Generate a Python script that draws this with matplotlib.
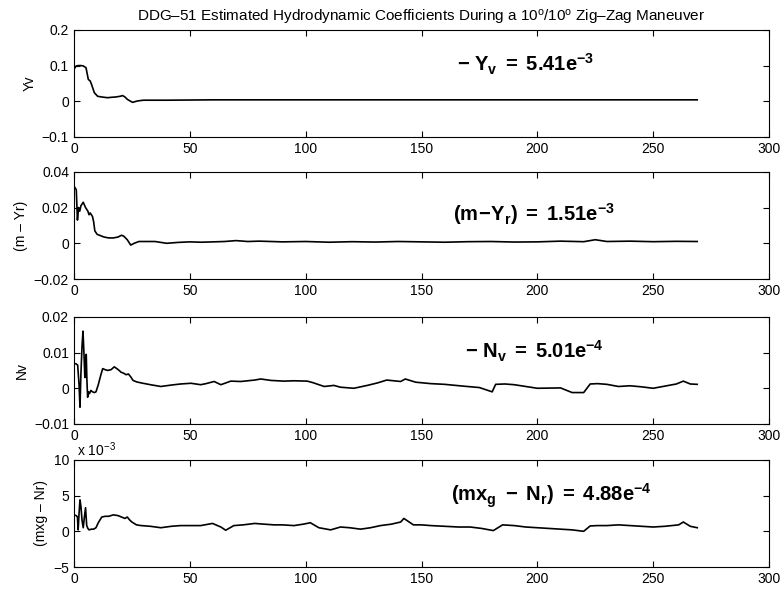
import matplotlib
matplotlib.use("Agg")
import matplotlib.pyplot as plt
from matplotlib.ticker import FuncFormatter

plt.rcParams['font.family'] = ['Liberation Sans', 'DejaVu Sans']
plt.rcParams['mathtext.fontset'] = 'custom'
plt.rcParams['mathtext.rm'] = 'Liberation Sans'
plt.rcParams['mathtext.it'] = 'Liberation Sans'
plt.rcParams['mathtext.bf'] = 'Liberation Sans:bold'

# Yv
t1 = [0, 1, 2, 3, 4, 5.2, 6.2, 7, 7.6, 8.8,
      10.2, 12, 14.5, 16, 18, 20, 21, 22, 23.1, 25.3,
      27.5, 30, 40, 60, 80, 100, 130, 160, 200, 240,
      269]
y1 = [0.09, 0.099, 0.1, 0.1, 0.099, 0.094, 0.061, 0.057, 0.047, 0.024,
      0.014, 0.012, 0.01, 0.011, 0.012, 0.014, 0.016, 0.012, 0.005, -0.003,
      0.001, 0.003, 0.003, 0.004, 0.004, 0.004, 0.004, 0.004, 0.004, 0.004,
      0.004]

# (m - Yr)
t2 = [0, 0.5, 1, 1.5, 2, 2.5, 3, 4, 5, 6,
      6.5, 7, 8, 8.5, 9, 10, 11, 13, 15, 17,
      19, 20.5, 21.5, 23, 24.5, 26, 28, 30, 35, 40,
      45, 50, 55, 60, 65, 70, 75, 80, 90, 100,
      110, 120, 130, 140, 150, 160, 170, 180, 190, 200,
      210, 220, 225, 230, 240, 250, 260, 269]
y2 = [0.032, 0.031, 0.030, 0.013, 0.020, 0.018, 0.021, 0.023, 0.020, 0.018,
      0.016, 0.017, 0.015, 0.012, 0.007, 0.005, 0.0045, 0.0035, 0.003, 0.003,
      0.0035, 0.0045, 0.004, 0.002, -0.001, 0.0, 0.001, 0.001, 0.001, 0.0,
      0.0005, 0.0008, 0.0006, 0.0008, 0.001, 0.0015, 0.001, 0.0012, 0.0008, 0.001,
      0.0006, 0.0009, 0.0007, 0.001, 0.0008, 0.0006, 0.0009, 0.001, 0.0007, 0.0008,
      0.0012, 0.0009, 0.002, 0.001, 0.0012, 0.0009, 0.0011, 0.001]

# Nv
t3 = [0, 1, 1.6, 2.2, 2.6, 3.0, 3.5, 3.9, 4.3, 4.7,
      5.0, 5.3, 5.6, 5.9, 6.3, 6.7, 7.3, 8, 8.8, 9.5,
      10.5, 11.5, 12.4, 13.5, 14.5, 16, 17.4, 18.5, 19.5, 20.3,
      21.5, 22.5, 23.5, 24.5, 25.5, 27, 29, 33, 37.5, 42,
      46, 50.5, 54.7, 57, 60.5, 63.4, 67.7, 72, 78, 80.6,
      85, 90.6, 95, 100.7, 103, 108, 112.2, 115, 120.8, 126.6,
      131, 135, 141, 143, 147.5, 154, 160, 168, 175, 180.5,
      182, 186, 190, 200, 210, 215, 220, 222.8, 226, 230,
      235, 240, 245, 250, 255, 260, 263, 266, 269]
y3 = [0.007, 0.0068, 0.0065, 0.001, -0.0053, 0.004, 0.012, 0.016, 0.010, 0.003,
      0.008, 0.0095, 0.002, -0.0025, -0.001, -0.0015, -0.0006, -0.001, -0.0012, -0.001,
      0.001, 0.0035, 0.0055, 0.0052, 0.005, 0.0052, 0.006, 0.0055, 0.005, 0.0045,
      0.0042, 0.0038, 0.004, 0.0032, 0.0022, 0.0018, 0.0015, 0.001, 0.0005, 0.0009,
      0.0012, 0.0014, 0.001, 0.0013, 0.0019, 0.001, 0.002, 0.0019, 0.0023, 0.0026,
      0.0022, 0.002, 0.0021, 0.002, 0.0016, 0.0005, 0.0008, 0.0003, 0.0, 0.0008,
      0.0015, 0.0023, 0.0019, 0.0026, 0.0017, 0.0013, 0.0011, 0.0006, 0.0002, -0.001,
      0.0011, 0.0012, 0.001, 0.0, 0.0001, -0.0012, -0.0012, 0.0012, 0.0013, 0.0011,
      0.0005, 0.0007, 0.0004, 0.0, 0.0006, 0.0012, 0.002, 0.0012, 0.0011]

# (mxg - Nr), in units of 1e-3
t4 = [0, 1, 1.5, 1.8, 2.2, 2.6, 3.0, 3.5, 4.0, 4.5,
      5.0, 5.5, 6.0, 6.5, 7.5, 8.5, 9.5, 10.5, 12, 13.5,
      15, 17, 19, 20.5, 22, 23, 24, 25, 27, 29,
      33, 37.5, 42, 46, 50, 54.7, 59.8, 63.4, 65.5, 69,
      73, 78, 82, 86.4, 90, 95, 99, 102, 105.7, 110.8,
      115, 119, 123.7, 128, 132.3, 137, 141, 142.4, 146.5, 150,
      154, 160, 166, 171, 176, 181, 185, 190, 195, 200,
      205, 210, 215, 220, 222.8, 226, 230, 235, 240, 245,
      250, 255, 258, 261, 263, 266, 269]
y4 = [2.3, 2.2, 2.0, 0.2, 2.5, 4.4, 3.5, 1.5, 0.5, 2.0,
      3.3, 0.8, 0.4, 0.2, 0.3, 0.3, 0.5, 1.2, 2.0, 2.1,
      2.1, 2.3, 2.2, 2.0, 1.8, 2.0, 1.6, 1.3, 0.9, 0.8,
      0.7, 0.5, 0.7, 0.8, 0.8, 0.8, 1.1, 0.6, 0.15, 0.8,
      0.9, 1.1, 1.0, 0.9, 0.9, 0.8, 1.0, 1.2, 0.5, 0.2,
      0.6, 0.5, 0.3, 0.5, 0.8, 1.0, 1.3, 1.8, 0.9, 0.9,
      0.8, 0.7, 0.6, 0.6, 0.4, 0.1, 0.9, 0.8, 0.6, 0.5,
      0.4, 0.3, 0.2, 0.0, 0.75, 0.8, 0.8, 0.9, 0.8, 0.7,
      0.6, 0.7, 0.8, 0.9, 1.3, 0.7, 0.5]

series = [(t1, y1), (t2, y2), (t3, y3), (t4, y4)]
ylabels = ['Yv', '(m – Yr)', 'Nv', '(mxg – Nr)']
yticks = [[-0.1, 0, 0.1, 0.2], [-0.02, 0, 0.02, 0.04],
          [-0.01, 0, 0.01, 0.02], [-5, 0, 5, 10]]
notes = [r'$\mathbf{-\ Y_v\ =\ 5.41e^{-3}}$',
         r'$\mathbf{(m\!-\!Y_r)\ =\ 1.51e^{-3}}$',
         r'$\mathbf{-\ N_v\ =\ 5.01e^{-4}}$',
         r'$\mathbf{(mx_g\ -\ N_r)\ =\ 4.88e^{-4}}$']
note_pos = [(0.551, 0.61), (0.545, 0.54), (0.563, 0.61), (0.543, 0.61)]
bottoms = [0.7686, 0.5287, 0.2838, 0.0422]

fmt = FuncFormatter(lambda v, p: f'{v:g}'.replace('-', '\u2212'))

fig = plt.figure(figsize=(7.81, 5.92), dpi=100)
for i in range(4):
    ax = fig.add_axes([0.0947, bottoms[i], 0.89, 0.181])
    t, y = series[i]
    ax.plot(t, y, color='black', lw=1.2)
    ax.set_xlim(0, 300)
    ax.set_ylim(yticks[i][0], yticks[i][-1])
    ax.set_xticks([0, 50, 100, 150, 200, 250, 300])
    ax.set_yticks(yticks[i])
    ax.yaxis.set_major_formatter(fmt)
    ax.tick_params(direction='in', top=True, right=True, length=4,
                   labelsize=10, width=0.8)
    ax.set_ylabel(ylabels[i], fontsize=10)
    ax.text(note_pos[i][0], note_pos[i][1], notes[i], transform=ax.transAxes,
            fontsize=14.5, ha='left', va='baseline')
    if i == 0:
        ax.set_title('DDG–51 Estimated Hydrodynamic Coefficients During a '
                     r'10$^{\mathrm{o}}$/10$^{\mathrm{o}}$ Zig–Zag Maneuver',
                     fontsize=11, pad=6)
    if i == 3:
        ax.text(0.005, 1.005, r'x 10$^{-3}$', transform=ax.transAxes,
                fontsize=10, ha='left', va='bottom')

fig.savefig('out.png', dpi=100)
